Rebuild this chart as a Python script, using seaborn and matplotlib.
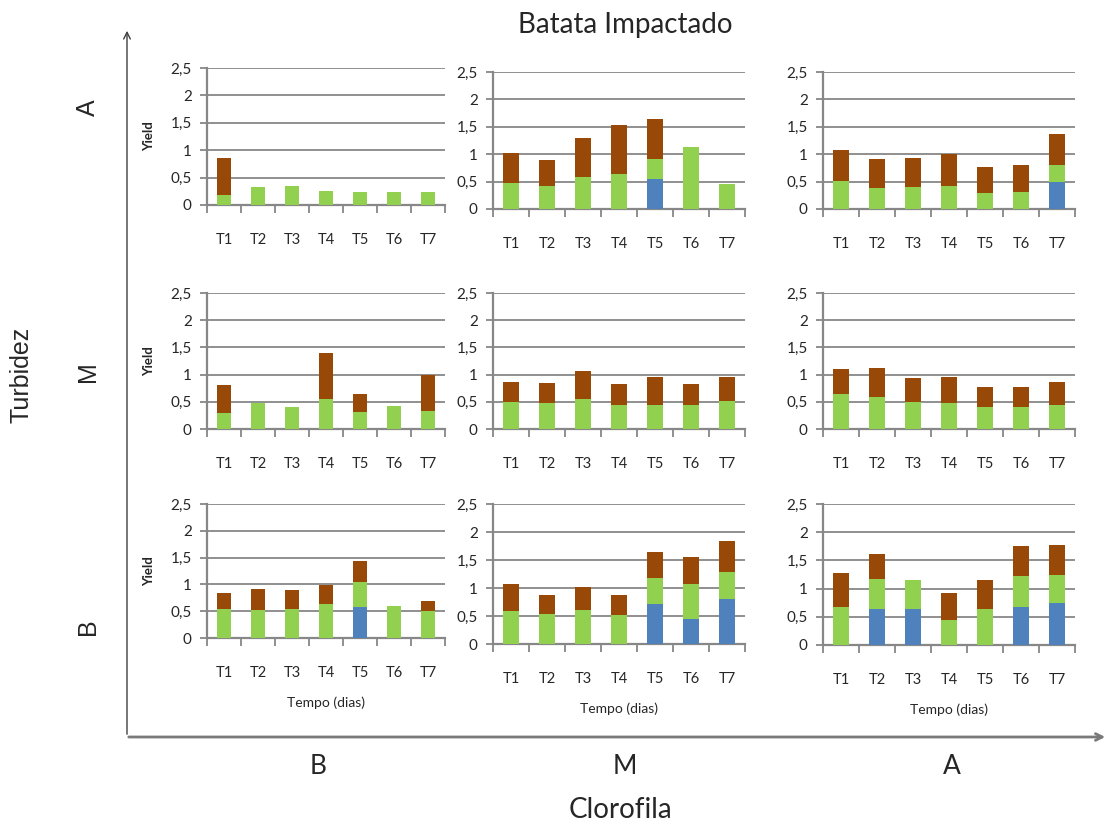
import matplotlib.pyplot as plt
import matplotlib.patches as mpatches
import numpy as np
import seaborn as sns

# Batata Impactado - Yield por Turbidez (linhas) x Clorofila (colunas)
# valores = topo de cada cor (barras sobrepostas), 0 = cor ausente

tempos = ['T1', 'T2', 'T3', 'T4', 'T5', 'T6', 'T7']
niveis_turb = ['A', 'M', 'B']
niveis_clor = ['B', 'M', 'A']

# Turbidez A
AB_marrom = [0.85, 0, 0, 0, 0, 0, 0]
AB_verde = [0.19, 0.33, 0.35, 0.26, 0.24, 0.24, 0.23]
AB_azul = [0, 0, 0, 0, 0, 0, 0]

AM_marrom = [1.02, 0.89, 1.30, 1.54, 1.65, 0, 0]
AM_verde = [0.47, 0.42, 0.58, 0.64, 0.91, 1.13, 0.45]
AM_azul = [0, 0, 0, 0, 0.55, 0, 0]

AA_marrom = [1.08, 0.91, 0.93, 1.00, 0.77, 0.80, 1.37]
AA_verde = [0.51, 0.38, 0.40, 0.42, 0.29, 0.31, 0.80]
AA_azul = [0, 0, 0, 0, 0, 0, 0.49]

# Turbidez M
MB_marrom = [0.80, 0, 0, 1.39, 0.64, 0, 0.99]
MB_verde = [0.29, 0.47, 0.40, 0.55, 0.31, 0.43, 0.34]
MB_azul = [0, 0, 0, 0, 0, 0, 0]

MM_marrom = [0.86, 0.84, 1.06, 0.82, 0.95, 0.82, 0.95]
MM_verde = [0.49, 0.47, 0.56, 0.44, 0.45, 0.44, 0.51]
MM_azul = [0, 0, 0, 0, 0, 0, 0]

MA_marrom = [1.10, 1.12, 0.93, 0.95, 0.78, 0.78, 0.86]
MA_verde = [0.64, 0.59, 0.49, 0.47, 0.40, 0.40, 0.44]
MA_azul = [0, 0, 0, 0, 0, 0, 0]

# Turbidez B
BB_marrom = [0.84, 0.92, 0.90, 0.99, 1.44, 0, 0.69]
BB_verde = [0.55, 0.53, 0.55, 0.64, 1.05, 0.60, 0.51]
BB_azul = [0, 0, 0, 0, 0.58, 0, 0]

BM_marrom = [1.07, 0.88, 1.02, 0.88, 1.64, 1.56, 1.84]
BM_verde = [0.59, 0.54, 0.61, 0.52, 1.18, 1.07, 1.29]
BM_azul = [0, 0, 0, 0, 0.72, 0.45, 0.81]

BA_marrom = [1.28, 1.62, 0, 0.93, 1.16, 1.76, 1.77]
BA_verde = [0.68, 1.17, 1.16, 0.45, 0.63, 1.23, 1.24]
BA_azul = [0, 0.63, 0.64, 0, 0, 0.68, 0.75]

paineis = [
    [(AB_marrom, AB_verde, AB_azul), (AM_marrom, AM_verde, AM_azul), (AA_marrom, AA_verde, AA_azul)],
    [(MB_marrom, MB_verde, MB_azul), (MM_marrom, MM_verde, MM_azul), (MA_marrom, MA_verde, MA_azul)],
    [(BB_marrom, BB_verde, BB_azul), (BM_marrom, BM_verde, BM_azul), (BA_marrom, BA_verde, BA_azul)],
]

cores = ['#984807', '#92D050', '#4F81BD']
cinza = '#878787'

sns.set_style('white')
plt.rcParams['font.family'] = ['Lato', 'DejaVu Sans']

W, H = 1110, 824
fig = plt.figure(figsize=(W / 100, H / 100), dpi=100)

# posicoes em pixels (x0, x1) e (ytopo, ybase)
colunas = [(207, 445), (493, 745), (823, 1075)]
linhas = [[(68, 205), (72, 209), (72, 209)],
          [(293, 429), (293, 429), (293, 429)],
          [(504, 638), (504, 644), (504, 645)]]

for i in range(3):
    for j in range(3):
        x0, x1 = colunas[j]
        yt, yb = linhas[i][j]
        ax = fig.add_axes([x0 / W, 1 - yb / H, (x1 - x0) / W, (yb - yt) / H])
        # barras sobrepostas: marrom atras, depois verde, depois azul
        for valores, cor in zip(paineis[i][j], cores):
            sns.barplot(x=tempos, y=valores, color=cor, width=0.42,
                        errorbar=None, ax=ax, saturation=1, zorder=3,
                        linewidth=0)
        ax.set_ylim(0, 2.5)
        ax.set_xlim(-0.5, 6.5)
        ax.set_yticks(np.arange(0, 2.51, 0.5))
        ax.set_yticklabels(['0', '0,5', '1', '1,5', '2', '2,5'])
        ax.yaxis.grid(True, color=cinza, linewidth=1.3, zorder=0)
        ax.set_axisbelow(True)
        for s in ['top', 'right']:
            ax.spines[s].set_visible(False)
        for s in ['left', 'bottom']:
            ax.spines[s].set_color(cinza)
            ax.spines[s].set_linewidth(1.6)
        ax.tick_params(axis='y', length=5, color=cinza, width=1.3,
                       labelsize=11, pad=6, left=True)
        ax.tick_params(axis='x', which='major', length=0, labelsize=10.5, pad=20)
        ax.set_xticks(np.arange(-0.5, 7, 1), minor=True)
        ax.tick_params(axis='x', which='minor', length=6, color=cinza,
                       width=1.3, bottom=True, direction='out')
        ax.set_xlabel('')
        ax.set_ylabel('')
        if j == 0:
            ax.set_ylabel('Yield', fontsize=9.5, fontweight='bold', labelpad=11)
        if i == 2:
            ax.set_xlabel('Tempo (dias)', fontsize=10, labelpad=12)

# eixos grandes com setas
fig.patches.append(mpatches.FancyArrowPatch(
    (127 / W, 1 - 737 / H), (127 / W, 1 - 28 / H), transform=fig.transFigure,
    arrowstyle='->', mutation_scale=12, color='#404040', lw=1))
fig.patches.append(mpatches.FancyArrowPatch(
    (126 / W, 1 - 737 / H), (1108 / W, 1 - 737 / H), transform=fig.transFigure,
    arrowstyle='->', mutation_scale=12, color='#7a7a7a', lw=2))

fig.text(625 / W, 1 - 25 / H, 'Batata Impactado', ha='center', va='center', fontsize=20)
fig.text(620 / W, 1 - 810 / H, 'Clorofila', ha='center', va='center', fontsize=20)
fig.text(22 / W, 1 - 375 / H, 'Turbidez', ha='center', va='center', fontsize=18,
         rotation=90, family='Liberation Sans')
for txt, y in zip(niveis_turb, [108, 372, 627]):
    fig.text(88 / W, 1 - y / H, txt, ha='center', va='center', fontsize=18,
             rotation=90, family='Liberation Sans')
for txt, x in zip(niveis_clor, [318, 625, 952]):
    fig.text(x / W, 1 - 767 / H, txt, ha='center', va='center', fontsize=19)

fig.savefig('out.png', dpi=100, facecolor='white')
